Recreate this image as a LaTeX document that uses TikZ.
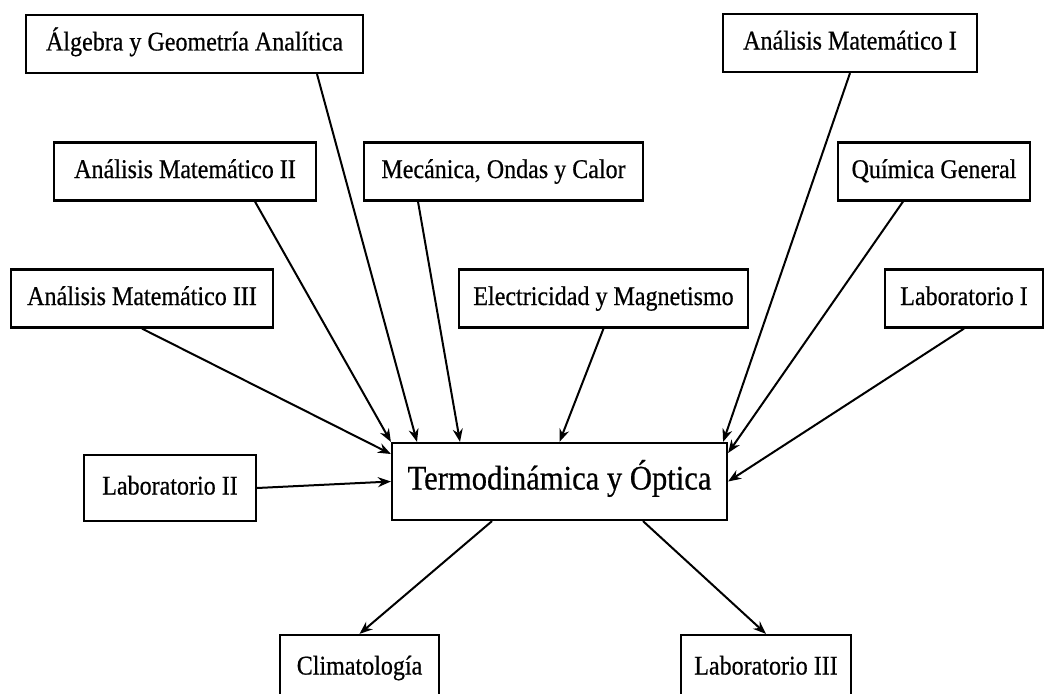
\documentclass[tikz,border=0pt]{standalone}
\usepackage{fontspec}
\setmainfont{Liberation Serif}[FakeStretch=0.89, FakeBold=0.6]
\usepackage{tikz}
\usetikzlibrary{arrows.meta}

\tikzset{
  materia/.style={draw, line width=2.2pt, inner sep=0pt, minimum height=58pt,
    text height=18pt, text depth=5pt, font=\fontsize{27}{30}\selectfont},
  flecha/.style={-{Stealth[length=13pt, width=10pt]}, line width=2pt}
}

\begin{document}
\begin{tikzpicture} [x=1pt, y=-1pt]
		\useasboundingbox (0, 0) rectangle (1046, 693);
		\clip (0, 0) rectangle (1046, 693);
		% materias previas
		\node[materia, minimum width=337pt] (alg) at (194.5, 44) {Álgebra y Geometría Analítica};
		\node[materia, minimum width=254pt] (am1) at (850, 43) {Análisis Matemático I};
		\node[materia, minimum width=262pt] (am2) at (185, 171.5) {Análisis Matemático II};
		\node[materia, minimum width=279pt] (mec) at (503.5, 171.5) {Mecánica, Ondas y Calor};
		\node[materia, minimum width=192pt] (qui) at (934, 171.5) {Química General};
		\node[materia, minimum width=262pt] (am3) at (142, 298.5) {Análisis Matemático III};
		\node[materia, minimum width=289pt] (ele) at (603.5, 298.5) {Electricidad y Magnetismo};
		\node[materia, minimum width=158pt] (lab1) at (964, 298.5) {Laboratorio I};
		\node[materia, minimum width=172pt, minimum height=66pt] (lab2) at (170, 488) {Laboratorio II};
		% materia central
		\node[materia, minimum width=335pt, minimum height=77pt, text height=23pt, text depth=7pt,
			font=\fontsize{34.4}{38}\selectfont] (term) at (559.5, 481.5) {Termodinámica y Óptica};
		% materias siguientes
		\node[materia, minimum width=159pt, minimum height=66pt] (clim) at (359.5, 668) {Climatología};
		\node[materia, minimum width=170pt, minimum height=66pt] (lab3) at (766, 668) {Laboratorio III};

		\draw [flecha] ([xshift=122.5pt]alg.south) -- ([xshift=-142.5pt]term.north);
		\draw [flecha] ([xshift=70pt]am2.south) -- (term.north west);
		\draw [flecha] ([xshift=-85.5pt]mec.south) -- ([xshift=-99.5pt]term.north);
		\draw [flecha] (am3.south) -- ([yshift=27.5pt]term.west);
		\draw [flecha] (ele.south) -- (term.north);
		\draw [flecha] (am1.south) -- ([xshift=-5pt]term.north east);
		\draw [flecha] ([xshift=-31pt]qui.south) -- ([yshift=28.5pt]term.east);
		\draw [flecha] (lab1.south) -- (term.east);
		\draw [flecha] (lab2.east) -- (term.west);
			\draw [flecha] ([xshift=-67.5pt]term.south) -- (clim.north);
			\draw [flecha] ([xshift=83.5pt]term.south) -- (lab3.north);
\end{tikzpicture}
\end{document}
